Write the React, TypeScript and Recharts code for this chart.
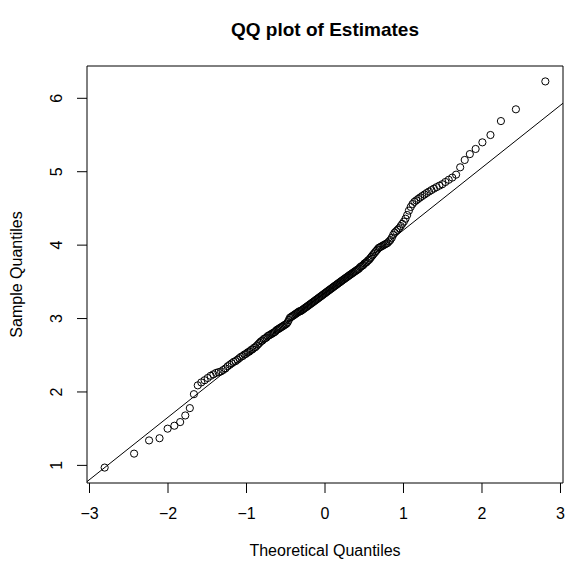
import React from "react";
import {
  ScatterChart,
  Scatter,
  XAxis,
  YAxis,
  ReferenceLine,
  ReferenceArea,
} from "recharts";

// theoretical normal quantiles (x) for 200 points
const theoretical = [
  -2.807, -2.432, -2.241, -2.108, -2.005, -1.919, -1.845, -1.78, -1.722, -1.67,
  -1.621, -1.576, -1.534, -1.495, -1.457, -1.422, -1.388, -1.356, -1.325, -1.296,
  -1.268, -1.24, -1.213, -1.188, -1.163, -1.139, -1.115, -1.092, -1.069, -1.047,
  -1.026, -1.005, -0.984, -0.964, -0.944, -0.925, -0.906, -0.887, -0.869, -0.851,
  -0.833, -0.815, -0.798, -0.781, -0.764, -0.747, -0.731, -0.714, -0.698, -0.682,
  -0.667, -0.651, -0.636, -0.62, -0.605, -0.59, -0.575, -0.561, -0.546, -0.532,
  -0.517, -0.503, -0.489, -0.475, -0.461, -0.447, -0.433, -0.419, -0.406, -0.392,
  -0.379, -0.365, -0.352, -0.339, -0.325, -0.312, -0.299, -0.286, -0.273, -0.26,
  -0.247, -0.234, -0.221, -0.208, -0.196, -0.183, -0.17, -0.157, -0.145, -0.132,
  -0.119, -0.107, -0.094, -0.082, -0.069, -0.056, -0.044, -0.031, -0.019, -0.006,
  0.006, 0.019, 0.031, 0.044, 0.056, 0.069, 0.082, 0.094, 0.107, 0.119,
  0.132, 0.145, 0.157, 0.17, 0.183, 0.196, 0.208, 0.221, 0.234, 0.247,
  0.26, 0.273, 0.286, 0.299, 0.312, 0.325, 0.339, 0.352, 0.365, 0.379,
  0.392, 0.406, 0.419, 0.433, 0.447, 0.461, 0.475, 0.489, 0.503, 0.517,
  0.532, 0.546, 0.561, 0.575, 0.59, 0.605, 0.62, 0.636, 0.651, 0.667,
  0.682, 0.698, 0.714, 0.731, 0.747, 0.764, 0.781, 0.798, 0.815, 0.833,
  0.851, 0.869, 0.887, 0.906, 0.925, 0.944, 0.964, 0.984, 1.005, 1.026,
  1.047, 1.069, 1.092, 1.115, 1.139, 1.163, 1.188, 1.213, 1.24, 1.268,
  1.296, 1.325, 1.356, 1.388, 1.422, 1.457, 1.495, 1.534, 1.576, 1.621,
  1.67, 1.722, 1.78, 1.845, 1.919, 2.005, 2.108, 2.241, 2.432, 2.807,
];

// sorted estimates (y)
const sample = [
  0.97, 1.16, 1.34, 1.37, 1.5, 1.54, 1.59, 1.68, 1.78, 1.97,
  2.09, 2.13, 2.16, 2.19, 2.22, 2.24, 2.26, 2.27, 2.28, 2.3,
  2.32, 2.35, 2.37, 2.39, 2.41, 2.42, 2.44, 2.46, 2.48, 2.49,
  2.51, 2.52, 2.54, 2.55, 2.57, 2.58, 2.6, 2.61, 2.63, 2.65,
  2.67, 2.69, 2.7, 2.72, 2.73, 2.74, 2.76, 2.77, 2.78, 2.79,
  2.8, 2.81, 2.82, 2.84, 2.85, 2.86, 2.87, 2.88, 2.89, 2.9,
  2.91, 2.92, 2.93, 2.95, 2.98, 3.01, 3.02, 3.03, 3.04, 3.05,
  3.06, 3.07, 3.08, 3.09, 3.1, 3.1, 3.11, 3.12, 3.13, 3.14,
  3.15, 3.16, 3.17, 3.18, 3.19, 3.2, 3.21, 3.22, 3.23, 3.24,
  3.25, 3.26, 3.27, 3.28, 3.29, 3.3, 3.31, 3.32, 3.33, 3.34,
  3.35, 3.36, 3.37, 3.38, 3.39, 3.4, 3.41, 3.42, 3.43, 3.44,
  3.45, 3.46, 3.47, 3.48, 3.49, 3.5, 3.51, 3.52, 3.53, 3.54,
  3.55, 3.56, 3.57, 3.58, 3.59, 3.6, 3.61, 3.62, 3.63, 3.64,
  3.65, 3.66, 3.67, 3.68, 3.7, 3.71, 3.72, 3.73, 3.75, 3.76,
  3.77, 3.79, 3.8, 3.82, 3.84, 3.86, 3.88, 3.9, 3.92, 3.94,
  3.96, 3.97, 3.98, 3.99, 4.0, 4.01, 4.02, 4.03, 4.05, 4.07,
  4.1, 4.14, 4.17, 4.19, 4.21, 4.23, 4.26, 4.29, 4.32, 4.36,
  4.41, 4.47, 4.52, 4.56, 4.59, 4.61, 4.63, 4.65, 4.67, 4.69,
  4.71, 4.73, 4.75, 4.77, 4.79, 4.81, 4.83, 4.86, 4.89, 4.92,
  4.96, 5.06, 5.16, 5.24, 5.31, 5.4, 5.5, 5.69, 5.85, 6.23,
];

const xTicks = [-3, -2, -1, 0, 1, 2, 3];
const yTicks = [1, 2, 3, 4, 5, 6];

// qqline through the quartiles
const lineIntercept = 3.356;
const lineSlope = 0.85;

const xDomain: [number, number] = [-3.032, 3.032];
const yDomain: [number, number] = [0.76, 6.44];

const data = theoretical.map((x, i) => ({ x, y: sample[i] }));

const FONT = '"Liberation Sans", Arial, Helvetica, sans-serif';

const minus = (v: number) => String(v).replace("-", "\u2212");

const XTick = (props: any) => {
  const { x, y, payload } = props;
  return (
    <text x={x} y={y + 26} textAnchor="middle" fontSize={16} fontFamily={FONT} fill="#000">
      {minus(payload.value)}
    </text>
  );
};

const YTick = (props: any) => {
  const { x, y, payload } = props;
  const bx = x - 15;
  return (
    <text
      x={bx}
      y={y}
      transform={`rotate(-90, ${bx}, ${y})`}
      textAnchor="middle"
      fontSize={16}
      fontFamily={FONT}
      fill="#000"
    >
      {payload.value}
    </text>
  );
};

const Ring = (props: any) => (
  <circle cx={props.cx} cy={props.cy} r={3.6} fill="none" stroke="#000" strokeWidth={1} />
);

const App: React.FC = () => {
  return (
    <div style={{ position: "absolute", left: 0, top: 0, width: 566, height: 563, background: "#fff" }}>
      <div
        style={{
          position: "absolute",
          left: 87,
          width: 476,
          top: 18,
          lineHeight: "24px",
          textAlign: "center",
          fontFamily: FONT,
          fontWeight: "bold",
          fontSize: 19,
          color: "#000",
        }}
      >
        QQ plot of Estimates
      </div>
      <ScatterChart width={566} height={563} margin={{ top: 66, right: 3, bottom: 0, left: 0 }}>
        <XAxis
          type="number"
          dataKey="x"
          domain={xDomain}
          allowDataOverflow
          ticks={xTicks}
          interval={0}
          height={80}
          axisLine={false}
          tickSize={10}
          tickMargin={0}
          tickLine={{ stroke: "#000" }}
          tick={<XTick />}
          label={{
            content: (p: any) => (
              <text
                x={p.viewBox.x + p.viewBox.width / 2}
                y={556}
                textAnchor="middle"
                fontSize={16}
                fontFamily={FONT}
                fill="#000"
              >
                Theoretical Quantiles
              </text>
            ),
          }}
        />
        <YAxis
          type="number"
          dataKey="y"
          domain={yDomain}
          allowDataOverflow
          ticks={yTicks}
          interval={0}
          width={87}
          axisLine={false}
          tickSize={10}
          tickMargin={0}
          tickLine={{ stroke: "#000" }}
          tick={<YTick />}
          label={{
            content: (p: any) => {
              const cy = p.viewBox.y + p.viewBox.height / 2;
              return (
                <text
                  x={22}
                  y={cy}
                  transform={`rotate(-90, 22, ${cy})`}
                  textAnchor="middle"
                  fontSize={16}
                  fontFamily={FONT}
                  fill="#000"
                >
                  Sample Quantiles
                </text>
              );
            },
          }}
        />
        <ReferenceArea
          x1={xDomain[0]}
          x2={xDomain[1]}
          y1={yDomain[0]}
          y2={yDomain[1]}
          fill="none"
          stroke="#000"
          strokeWidth={1}
          fillOpacity={0}
        />
        <ReferenceLine
          segment={[
            { x: xDomain[0], y: lineIntercept + lineSlope * xDomain[0] },
            { x: xDomain[1], y: lineIntercept + lineSlope * xDomain[1] },
          ]}
          stroke="#000"
          strokeWidth={1}
          ifOverflow="hidden"
        />
        <Scatter data={data} shape={<Ring />} isAnimationActive={false} />
      </ScatterChart>
    </div>
  );
};

export default App;
